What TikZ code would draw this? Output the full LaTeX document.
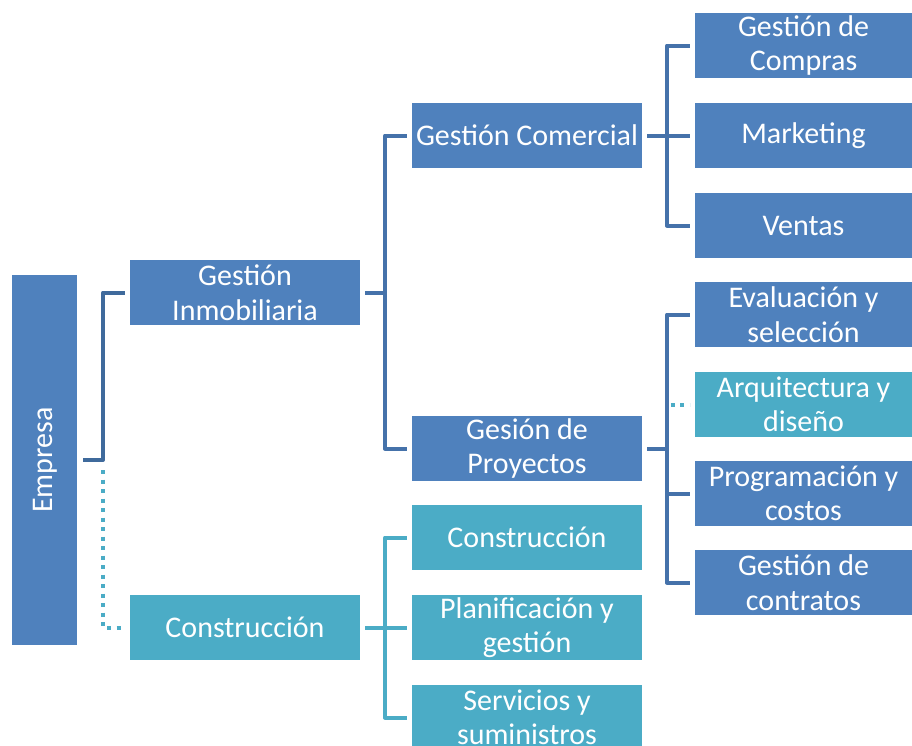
\documentclass[tikz,border=0pt]{standalone}
\usepackage{fontspec}
\setmainfont{Carlito}
\definecolor{boxblue}{HTML}{4F81BD}
\definecolor{boxteal}{HTML}{4BACC6}
\definecolor{lineblue}{HTML}{4572AA}
\definecolor{linedark}{HTML}{3F6A9C}
\begin{document}
\begin{tikzpicture}[x=1pt,y=-1pt,
  box/.style={fill=#1, text=white, inner sep=0pt, align=center,
    font=\fontsize{30}{34.5}\selectfont},
  wide/.style={minimum width=230pt, minimum height=65pt},
  right/.style={minimum width=217pt, minimum height=65pt},
  conn/.style={draw=lineblue, line width=4pt, line join=round},
  tconn/.style={draw=boxteal, line width=4pt, line join=round},
  dot/.style={draw=boxteal, line width=4pt, dash pattern=on 4pt off 5.5pt}]
\clip (0,0) rectangle (912,745);
\fill[white] (0,0) rectangle (912,745);
% boxes
\node[box=boxblue, minimum width=65pt, minimum height=370pt] (emp) at (44.5,460) {};
\node[box=boxblue, rotate=90, text=white] (empt) at (45,460) {Empresa};
\node[box=boxblue, wide] (gi) at (245,292.5) {Gestión\\Inmobiliaria};
\node[box=boxteal, wide] (co) at (245,627.5) {Construcción};
\node[box=boxblue, wide] (gc) at (527,135.5) {Gestión Comercial};
\node[box=boxblue, wide] (gp) at (527,448.5) {Gesión de\\Proyectos};
\node[box=boxteal, wide] (c2) at (527,537.5) {Construcción};
\node[box=boxteal, wide] (pg) at (527,627.5) {Planificación y\\gestión};
\node[box=boxteal, wide] (ss) at (527,717.5) {Servicios y\\suministros};
\node[box=boxblue, right] (gco) at (803.5,45.5) {Gestión de\\Compras};
\node[box=boxblue, right] (mk) at (803.5,135.5) {Marketing};
\node[box=boxblue, right] (ve) at (803.5,225.5) {Ventas};
\node[box=boxblue, right] (es) at (803.5,314.5) {Evaluación y\\selección};
\node[box=boxteal, right] (ad) at (803.5,404.5) {Arquitectura y\\diseño};
\node[box=boxblue, right] (pc) at (803.5,493.5) {Programación y\\costos};
\node[box=boxblue, right] (gct) at (803.5,582.5) {Gestión de\\contratos};
% connectors
\coordinate (j0) at (103,0);
\coordinate (j1) at (385,0);
\coordinate (j2) at (667,0);
\draw[dot] (j0 |- emp.east) ++(0,10) -- (j0 |- co.west) -- ([xshift=-5pt]co.west);
\draw[conn, draw=linedark] ([xshift=6pt]emp.east) -- (j0 |- emp.east) -- (j0 |- gi.west) -- ([xshift=-5pt]gi.west);
\draw[conn] ([xshift=5pt]gi.east) -- (j1 |- gi.east);
\draw[conn] ([xshift=-5pt]gc.west) -- (j1 |- gc.west) -- (j1 |- gp.west) -- ([xshift=-5pt]gp.west);
\draw[conn] ([xshift=5pt]gc.east) -- ([xshift=-5pt]mk.west);
\draw[conn] ([xshift=-5pt]gco.west) -- (j2 |- gco.west) -- (j2 |- ve.west) -- ([xshift=-5pt]ve.west);
\draw[conn] ([xshift=5pt]gp.east) -- (j2 |- gp.east);
\draw[dot] ([xshift=-24pt]ad.west) -- ([xshift=-5pt]ad.west);
\draw[conn] ([xshift=-5pt]es.west) -- (j2 |- es.west) -- (j2 |- gct.west) -- ([xshift=-5pt]gct.west);
\draw[conn] (j2 |- pc.west) -- ([xshift=-5pt]pc.west);
\draw[tconn] ([xshift=5pt]co.east) -- ([xshift=-5pt]pg.west);
\draw[tconn] ([xshift=-5pt]c2.west) -- (j1 |- c2.west) -- (j1 |- ss.west) -- ([xshift=-5pt]ss.west);
\end{tikzpicture}
\end{document}
